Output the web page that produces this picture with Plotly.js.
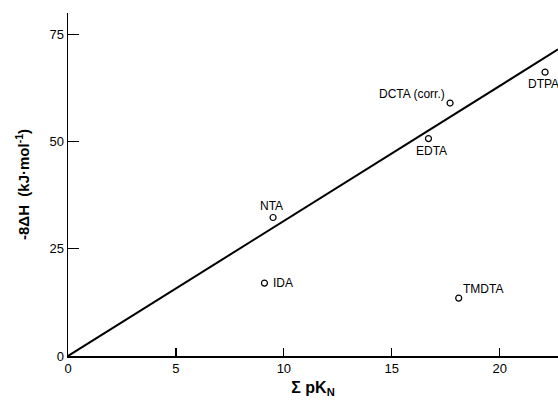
<!DOCTYPE html>
<html>
<head>
<meta charset="utf-8">
<script src="https://cdn.plot.ly/plotly-3.0.1.min.js"></script>
<style>html,body{margin:0;padding:0;background:#fff;}#chart{width:558px;height:401px;}</style>
</head>
<body>
<div id="chart"></div>
<script>
var ligands = ["NTA", "IDA", "TMDTA", "EDTA", "DCTA (corr.)", "DTPA"];
var sumPK = [9.5, 9.1, 18.1, 16.7, 17.7, 22.1];
var negDH = [32.3, 17.0, 13.5, 50.7, 59.0, 66.2];
var fitX = [0, 22.7];
var fitY = [0, 71.5];
var xTicks = [0, 5, 10, 15, 20];
var yTicks = [0, 25, 50, 75];

// label placement (style only)
var labelPos = {
  "NTA": {xanchor: "center", yanchor: "bottom", xshift: -2, yshift: 3},
  "IDA": {xanchor: "left", yanchor: "middle", xshift: 7, yshift: 0},
  "TMDTA": {xanchor: "left", yanchor: "bottom", xshift: 2, yshift: 0},
  "EDTA": {xanchor: "center", yanchor: "top", xshift: 3, yshift: -3},
  "DCTA (corr.)": {xanchor: "right", yanchor: "bottom", xshift: -3, yshift: 0},
  "DTPA": {xanchor: "center", yanchor: "top", xshift: -2, yshift: -3}
};

var font = "Liberation Sans, Arial, sans-serif";

var traces = [
  {x: fitX, y: fitY, mode: "lines", line: {color: "#000", width: 2}, hoverinfo: "skip", cliponaxis: false},
  {x: sumPK, y: negDH, mode: "markers", marker: {symbol: "circle-open", size: 6, color: "#000", line: {width: 1.2, color: "#000"}}, cliponaxis: false}
];

var annotations = ligands.map(function(name, i) {
  var p = labelPos[name];
  return {x: sumPK[i], y: negDH[i], text: name, showarrow: false,
    xanchor: p.xanchor, yanchor: p.yanchor, xshift: p.xshift, yshift: p.yshift,
    font: {family: font, size: 12, color: "#000"}};
});

var layout = {
  width: 558, height: 401,
  margin: {l: 68, r: 0, t: 13, b: 45},
  paper_bgcolor: "#fff", plot_bgcolor: "#fff",
  showlegend: false,
  font: {family: font, color: "#000"},
  xaxis: {
    range: [0, 22.7], tickvals: xTicks, ticktext: xTicks.map(String),
    ticks: "inside", ticklen: 8, tickwidth: 1.2, tickcolor: "#000",
    showline: true, linecolor: "#000", linewidth: 1.5,
    showgrid: false, zeroline: false,
    tickfont: {family: font, size: 13, color: "#000"},
    title: {text: "<b>Σ pK<sub>N</sub></b>", font: {family: font, size: 16, color: "#000"}, standoff: 6}
  },
  yaxis: {
    range: [0, 80], tickvals: yTicks, ticktext: yTicks.map(String),
    ticks: "inside", ticklen: 11, tickwidth: 1.2, tickcolor: "#000",
    showline: true, linecolor: "#000", linewidth: 1.5,
    showgrid: false, zeroline: false,
    tickfont: {family: font, size: 13, color: "#000"},
    title: {text: "<b>-8ΔH  (kJ·mol<sup>-1</sup>)</b>", font: {family: font, size: 15, color: "#000"}, standoff: 16}
  },
  annotations: annotations
};

Plotly.newPlot("chart", traces, layout, {staticPlot: true});
</script>
</body>
</html>
